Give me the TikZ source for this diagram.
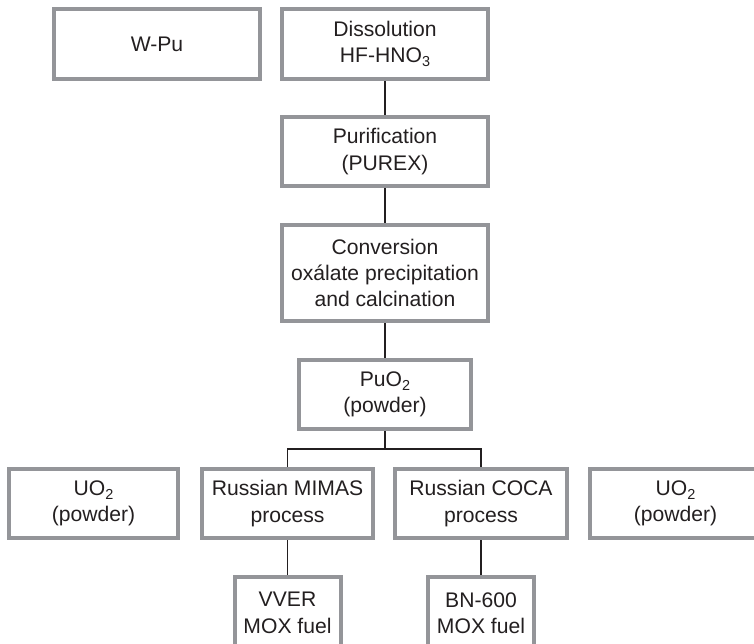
\documentclass[tikz,border=0pt]{standalone}
\usepackage{fontspec}
\setmainfont{Liberation Sans}
\usetikzlibrary{backgrounds}
\definecolor{boxgray}{RGB}{148,149,153}
\definecolor{ink}{RGB}{35,31,32}
\tikzset{
  x=1bp, y=-1bp,
  procbox/.style={draw=boxgray, line width=4bp, fill=white, inner sep=0pt,
    align=center, text=ink, font=\fontsize{21.2}{26.5}\selectfont},
  link/.style={draw=ink, line width=1.1bp}
}
\newcommand{\subsc}[1]{\raisebox{-0.35ex}{\fontsize{14.5}{14.5}\selectfont #1}}
\begin{document}
\begin{tikzpicture}
\useasboundingbox (0,0) rectangle (754,644);
\node[procbox, minimum width=206bp, minimum height=70bp] (wpu) at (157,44) {W-Pu};
\node[procbox, minimum width=206bp, minimum height=70bp] (diss) at (385,44) {Dissolution\\HF-HNO\subsc{3}};
\node[procbox, minimum width=206bp, minimum height=69bp] (pur) at (385,151.5) {Purification\\(PUREX)};
\node[procbox, minimum width=206bp, minimum height=96bp] (conv) at (385,273) {Conversion\\ox\'alate precipitation\\and calcination};
\node[procbox, minimum width=172bp, minimum height=69bp] (puo) at (385,394.5) {PuO\subsc{2}\\(powder)};
\node[procbox, minimum width=169bp, minimum height=69bp] (uol) at (93.5,503.5) {UO\subsc{2}\\(powder)};
\node[procbox, minimum width=171bp, minimum height=69bp] (mimas) at (287.5,503.5) {Russian MIMAS\\process};
\node[procbox, minimum width=172bp, minimum height=69bp] (coca) at (481,503.5) {Russian COCA\\process};
\node[procbox, minimum width=171bp, minimum height=69bp] (uor) at (675.5,503.5) {UO\subsc{2}\\(powder)};
\node[procbox, minimum width=106bp, minimum height=72bp] (vver) at (287.5,613) {VVER\\MOX fuel};
\node[procbox, minimum width=106bp, minimum height=72bp] (bn) at (481,613) {BN-600\\MOX fuel};
\coordinate (split) at (385,449);
\coordinate (splitl) at (287.5,449);
\coordinate (splitr) at (481,449);
\begin{pgfonlayer}{background}
\fill[white] (0,0) rectangle (754,644);
\draw[link] (diss.south) -- (pur.north);
\draw[link] (pur.south) -- (conv.north);
\draw[link] (conv.south) -- (puo.north);
\draw[link] (puo.south) -- (split);
\draw[link] (mimas.north) -- (splitl) -- (splitr) -- (coca.north);
\draw[link] (mimas.south) -- (vver.north);
\draw[link] (coca.south) -- (bn.north);
\end{pgfonlayer}
\end{tikzpicture}
\end{document}
